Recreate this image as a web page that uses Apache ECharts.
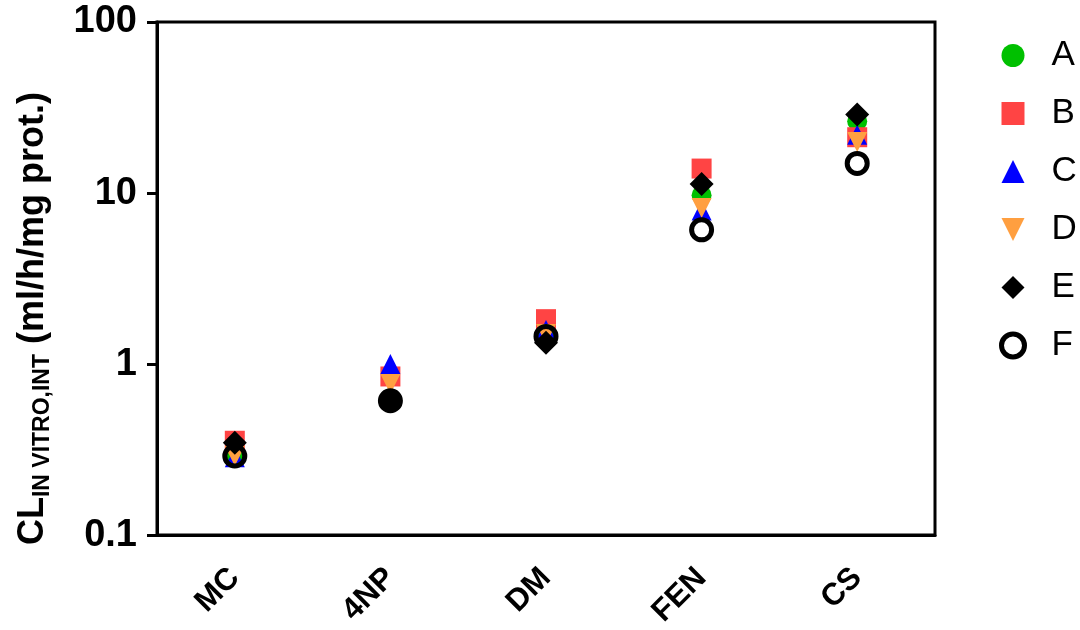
<!DOCTYPE html>
<html>
<head>
<meta charset="utf-8">
<script src="https://cdn.jsdelivr.net/npm/echarts@6/dist/echarts.min.js"></script>
<style>html,body{margin:0;padding:0;background:#fff;}#c{width:1080px;height:630px;}</style>
</head>
<body>
<div id="c"></div>
<script>
const categories = ['MC', '4NP', 'DM', 'FEN', 'CS'];
const seriesNames = ['A', 'B', 'C', 'D', 'E', 'F'];
const valuesA = [0.29, 0.61, 1.45, 9.7, 26.3];
const valuesB = [0.356, 0.846, 1.83, 13.9, 21.2];
const valuesC = [0.285, 1.0, 1.58, 7.9, 21.9];
const valuesD = [0.29, 0.765, 1.5, 8.18, 19.9];
const valuesE = [0.347, 0.61, 1.33, 11.3, 28.8];
const valuesF = [0.29, 0.61, 1.45, 6.09, 14.9];
const yTicks = [0.1, 1, 10, 100];

const FONT = 'Liberation Sans, Arial, sans-serif';
const chart = echarts.init(document.getElementById('c'));

function sc(name, data, symbol, size, itemStyle) {
  itemStyle.opacity = 1;
  return {
    name: name, type: 'scatter', data: data, symbol: symbol, symbolSize: size,
    itemStyle: itemStyle, emphasis: {disabled: true}
  };
}

chart.setOption({
  animation: false,
  backgroundColor: '#fff',
  grid: {left: 157, right: 145, top: 22, bottom: 91, show: true, borderColor: '#000', borderWidth: 3, backgroundColor: 'transparent'},
  legend: {
    orient: 'vertical', left: 994, top: 33, itemWidth: 23, itemHeight: 23, itemGap: 23,
    textStyle: {fontFamily: FONT, fontSize: 35, color: '#000', lineHeight: 35, padding: [0, 0, 0, 22]},
    data: seriesNames.map(function (n) {
      return n === 'F' ? {name: n, itemStyle: {borderWidth: 5, borderColor: '#000', color: 'rgba(0,0,0,0)'}} : {name: n};
    })
  },
  xAxis: {
    type: 'category', data: categories, boundaryGap: true,
    axisLine: {lineStyle: {color: '#000', width: 3}},
    axisTick: {alignWithLabel: true, length: 10, lineStyle: {color: '#000', width: 3}},
    axisLabel: {rotate: 45, fontFamily: FONT, fontWeight: 'bold', fontSize: 31, color: '#000', margin: 38},
    splitLine: {show: false}
  },
  yAxis: {
    type: 'log', logBase: 10, min: yTicks[0], max: yTicks[yTicks.length - 1],
    axisLine: {show: true, lineStyle: {color: '#000', width: 3}},
    axisTick: {show: true, length: 10, lineStyle: {color: '#000', width: 3}},
    minorTick: {show: false},
    axisLabel: {fontFamily: FONT, fontWeight: 'bold', fontSize: 38, color: '#000', margin: 20,
      formatter: function (v) { return String(+v.toPrecision(3)); }},
    splitLine: {show: false},
    name: '{m|CL}{s|IN VITRO,INT}{m| (ml/h/mg prot.)}',
    nameLocation: 'middle', nameRotate: 90, nameGap: 103,
    nameTextStyle: {
      padding: [0, 80, 0, 0],
      rich: {
        m: {fontFamily: FONT, fontWeight: 'bold', fontSize: 36, color: '#000', lineHeight: 42},
        s: {fontFamily: FONT, fontWeight: 'bold', fontSize: 23, color: '#000', lineHeight: 22, verticalAlign: 'bottom'}
      }
    }
  },
  series: [
    sc('A', valuesA, 'circle', 20, {color: '#00C000'}),
    sc('B', valuesB, 'rect', 20, {color: '#FF4444'}),
    sc('C', valuesC, 'triangle', 20, {color: '#0000FF'}),
    sc('D', valuesD, 'path://M0,0L10,0L5,10Z', 20, {color: '#FF9F40'}),
    sc('E', valuesE, 'diamond', 24, {color: '#000'}),
    sc('F', valuesF, 'circle', 20, {color: 'rgba(0,0,0,0)', borderColor: '#000', borderWidth: 5})
  ]
});
</script>
</body>
</html>
